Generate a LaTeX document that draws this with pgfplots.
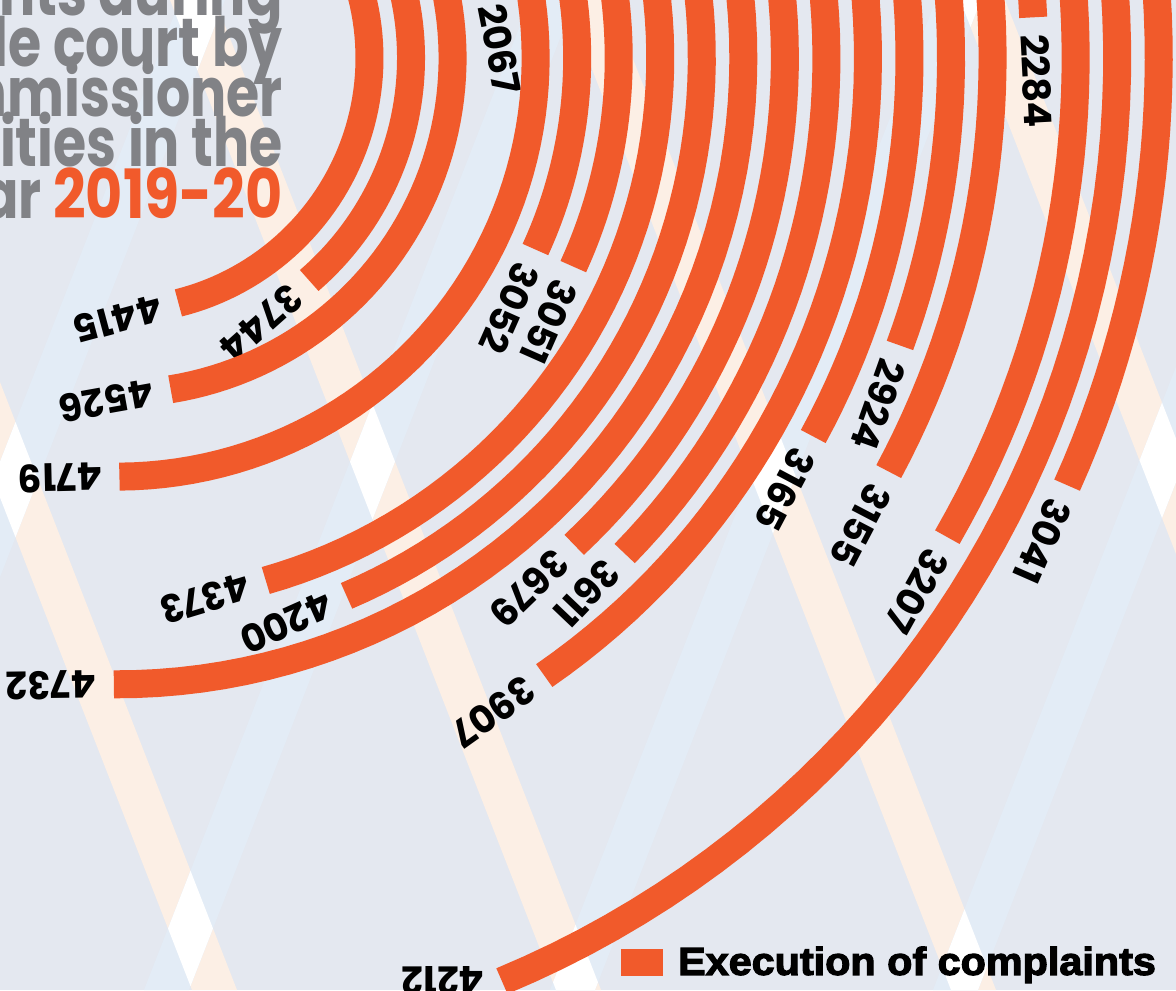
\documentclass[border=0pt]{standalone}
\usepackage{pgfplots}
\pgfplotsset{compat=1.18}
\usepackage{fontspec}
\setmainfont{Poppins}
\IfFontExistsTF{Poppins Black}{%
  \newfontfamily\heavy{Poppins Black}%
  \newfontfamily\titlefam{Poppins Black}[FakeStretch=0.79]%
  \newfontfamily\yearfam{Poppins Black}[FakeStretch=0.84]}{%
  \newfontfamily\heavy{Poppins}[FakeBold=2]%
  \newfontfamily\titlefam{Poppins}[FakeBold=2, FakeStretch=0.79]%
  \newfontfamily\yearfam{Poppins}[FakeBold=2, FakeStretch=0.84]}
\newfontfamily\legfont{Liberation Sans Bold}[FakeBold=3, FakeStretch=1.06]
\definecolor{bgc}{HTML}{E4E8F0}
\definecolor{peach}{HTML}{FCEFE5}
\definecolor{lblue}{HTML}{E3ECF6}
\definecolor{orng}{HTML}{F15A2B}
\definecolor{tgray}{HTML}{818286}
\newcommand\lblfont{\heavy\bfseries\fontsize{19}{19}\selectfont}
\newcommand\titlefont{\titlefam\bfseries\fontsize{34}{34}\selectfont}
\newcommand\yearfont{\yearfam\bfseries\fontsize{34}{34}\selectfont}
% angular scale of the chart (degrees from 12 o'clock, clockwise) for a value #1
\newcommand\ang[1]{15.06+28.1*(#1/1000)+1.441*(#1/1000)^2+1.43*(#1/1000-2.067)*(#1/1000-3.207)*(#1/1000-4.732)}
% [#1] = label options, #2 = ring (1 = innermost), #3 = value
\newcommand\arcbar[3][sloped, allow upside down]{%
  \addplot[orng, line width=14pt, domain=0:{\ang{#3}}, samples=91, forget plot]
    ({117+(252.5+41.54*(#2-1))*sin(x)},{-58+(252.5+41.54*(#2-1))*cos(x)})
    node[pos=1, anchor=west, inner xsep=1.5pt, inner ysep=0pt, text=black,
         font=\lblfont, #1] {#3};}
\begin{document}
\begin{tikzpicture}
\useasboundingbox (0,0) rectangle (588pt,495pt);
\clip (0,0) rectangle (588pt,495pt);
\fill[bgc] (0,0) rectangle (588pt,495pt);
\begin{scope}[yshift=495pt, x=0.5pt, y=-0.5pt]
  \foreach \p in {-194,170,565,960}
    \fill[peach] (\p,0) -- ({\p+45},0) -- ({\p+431},990) -- ({\p+386},990) -- cycle;
  \foreach \b in {180,530,936,1319}
    \fill[lblue] (\b,0) -- ({\b+45},0) -- ({\b-341},990) -- ({\b-386},990) -- cycle;
  \begin{scope}
    \clip \foreach \p in {-194,170,565,960} {(\p,0) -- ({\p+45},0) -- ({\p+431},990) -- ({\p+386},990) -- cycle};
    \fill[white] \foreach \b in {180,530,936,1319} {(\b,0) -- ({\b+45},0) -- ({\b-341},990) -- ({\b-386},990) -- cycle};
  \end{scope}
\end{scope}
\begin{axis}[at={(0,0)}, anchor=south west, scale only axis,
  width=588pt, height=495pt, xmin=0, xmax=1176, ymin=-990, ymax=0,
  hide axis,
  legend style={at={(axis description cs:0.528,0.028)}, anchor=west,
    draw=none, fill=none, inner sep=0pt, font=\legfont\fontsize{19.5}{20}\selectfont,
    legend cell align=left},
  legend image code/.code={\fill[orng] (0pt,-6.5pt) rectangle (20.5pt,6.5pt); \path (26pt,0pt);}]
\addlegendimage{orng}
\addlegendentry{Execution of complaints}
\arcbar{1}{4415}
\arcbar{2}{3744}
\arcbar{3}{4526}
\arcbar{4}{2067}
\arcbar{5}{4719}
\arcbar{6}{3052}
\arcbar{7}{3051}
\arcbar{8}{4373}
\arcbar{9}{4200}
\arcbar{10}{4732}
\arcbar{11}{3679}
\arcbar{12}{3611}
\arcbar{13}{3907}
\arcbar{14}{3165}
\arcbar{15}{2924}
\arcbar{16}{3155}
\arcbar{17}{2284}
\arcbar{18}{3207}
\arcbar[rotate=180]{19}{4212}
\arcbar{20}{3041}
\node[anchor=base east, inner sep=0pt, text=tgray, font=\titlefont] at (axis cs:283,-16) {complaints during};
\node[anchor=base east, inner sep=0pt, text=tgray, font=\titlefont] at (axis cs:283,-67) {Hon'ble court by};
\node[anchor=base east, inner sep=0pt, text=tgray, font=\titlefont] at (axis cs:283,-117) {Commissioner};
\node[anchor=base east, inner sep=0pt, text=tgray, font=\titlefont] at (axis cs:283,-167) {authorities in the};
\node[anchor=base east, inner sep=0pt, text=tgray, font=\titlefont] at (axis cs:283,-219) {year {\yearfont\color{orng}2019-20}};
\end{axis}
\end{tikzpicture}
\end{document}
